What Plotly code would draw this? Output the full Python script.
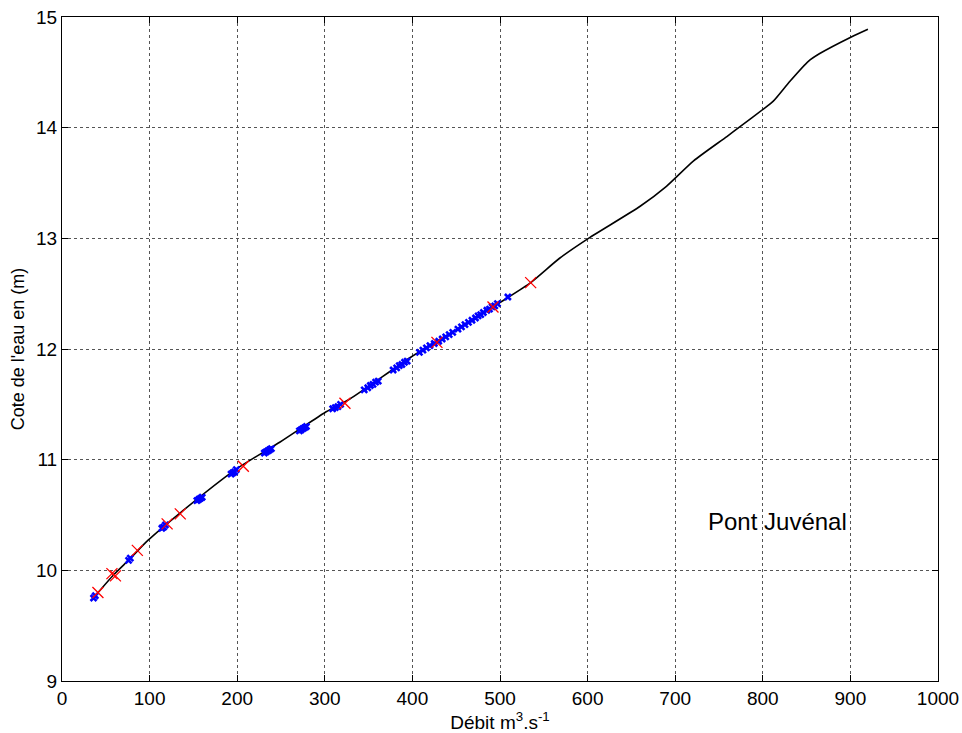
import plotly.graph_objects as go

# Rating curve (discharge m3/s, stage m)
curve_q = [37, 59, 77, 98, 135, 198, 249, 299, 329, 399, 450, 492, 535, 568, 601,
           660, 690, 721, 759, 774, 801, 812, 831, 852, 865, 901, 920]
curve_h = [9.76, 9.96, 10.10, 10.27, 10.52, 10.91, 11.16, 11.42, 11.55, 11.93, 12.17,
           12.38, 12.60, 12.82, 13.00, 13.29, 13.47, 13.70, 13.92, 14.01, 14.17, 14.24,
           14.42, 14.60, 14.67, 14.82, 14.89]

# Blue observations
blue_q = [36, 38, 76, 78, 114, 116, 118, 154, 156, 158, 160, 193, 195, 197, 199,
          231, 233, 235, 237, 239, 271, 273, 275, 277, 279, 309, 312, 315, 318,
          345, 349, 352, 355, 358, 361, 378, 382, 385, 388, 391, 394, 408, 412, 416,
          420, 425, 430, 434, 438, 442, 446, 452, 456, 460, 464, 468, 472, 475, 478,
          481, 485, 488, 491, 494, 497, 509]
blue_h = [9.75, 9.77, 10.09, 10.11, 10.38, 10.39, 10.41, 10.63, 10.64, 10.65, 10.66,
          10.87, 10.88, 10.89, 10.91, 11.06, 11.07, 11.08, 11.09, 11.10, 11.26, 11.27,
          11.28, 11.29, 11.30, 11.46, 11.47, 11.48, 11.50, 11.63, 11.65, 11.67, 11.68,
          11.70, 11.71, 11.81, 11.83, 11.85, 11.86, 11.88, 11.89, 11.97, 11.99, 12.01,
          12.03, 12.05, 12.07, 12.09, 12.11, 12.13, 12.15, 12.18, 12.20, 12.22, 12.24,
          12.26, 12.28, 12.30, 12.31, 12.33, 12.35, 12.36, 12.38, 12.39, 12.41, 12.47]

# Red gaugings
red_q = [41, 57, 61, 86, 120, 135, 207, 323, 428, 492, 535]
red_h = [9.80, 9.97, 9.95, 10.18, 10.42, 10.51, 10.94, 11.51, 12.06, 12.38, 12.60]

x_ticks = [0, 100, 200, 300, 400, 500, 600, 700, 800, 900, 1000]
y_ticks = [9, 10, 11, 12, 13, 14, 15]

FONT = "Liberation Sans, Arial, sans-serif"

fig = go.Figure()
fig.add_trace(go.Scatter(x=curve_q, y=curve_h, mode="lines",
                         line=dict(color="black", width=1.6, shape="spline", smoothing=0.6),
                         showlegend=False))
fig.add_trace(go.Scatter(x=blue_q, y=blue_h, mode="markers",
                         marker=dict(symbol="x-thin", size=6, color="blue",
                                     line=dict(color="blue", width=2.6)),
                         showlegend=False))
fig.add_trace(go.Scatter(x=red_q, y=red_h, mode="markers",
                         marker=dict(symbol="x-thin", size=11, color="red",
                                     line=dict(color="red", width=1.3)),
                         showlegend=False))

axis_common = dict(showline=True, linecolor="black", linewidth=1, mirror="ticks",
                   ticks="inside", ticklen=6, tickcolor="black",
                   showgrid=True, gridcolor="#555555", griddash="dot", gridwidth=1,
                   zeroline=False, tickfont=dict(family=FONT, size=19, color="black"))

fig.update_xaxes(range=[0, 1000], tickvals=x_ticks,
                 ticktext=[str(v) for v in x_ticks],
                 title=dict(text="Débit m<sup>3</sup>.s<sup>-1</sup>",
                            font=dict(family=FONT, size=19, color="black"), standoff=0),
                 **axis_common)
fig.update_yaxes(range=[9, 15], tickvals=y_ticks,
                 ticktext=[str(v) for v in y_ticks],
                 title=dict(text="Cote de l'eau en (m)",
                            font=dict(family=FONT, size=18, color="black"), standoff=6),
                 **axis_common)

fig.add_annotation(x=817, y=10.44, text="Pont Juvénal", showarrow=False,
                   font=dict(family=FONT, size=24, color="black"))

fig.update_layout(width=962, height=733, plot_bgcolor="white", paper_bgcolor="white",
                  margin=dict(l=62, r=24, t=17, b=52, autoexpand=False), showlegend=False)

fig.write_html("out.html", config={"displayModeBar": False},
               post_script="document.body.style.margin='0';document.body.style.overflow='hidden';")
